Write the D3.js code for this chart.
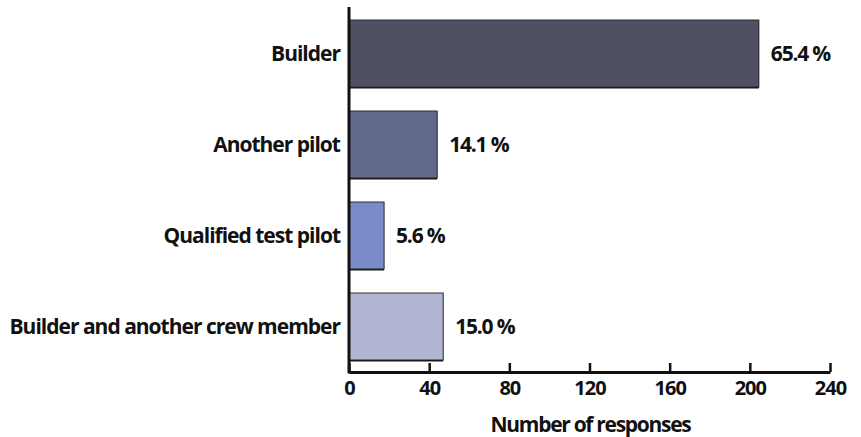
<!DOCTYPE html>
<html>
<head>
<meta charset="utf-8">
<script src="https://cdn.jsdelivr.net/npm/d3@7"></script>
<style>
  html, body { margin: 0; padding: 0; background: #fff; }
  svg text { font-family: "Open Sans", "DejaVu Sans", sans-serif; font-weight: 700; fill: #111; }
</style>
</head>
<body>
<svg id="chart" width="861" height="437"></svg>
<script>
// Who flew the first flight — number of responses per category
const categories = ["Builder", "Another pilot", "Qualified test pilot", "Builder and another crew member"];
const responses = [204.5, 44, 17.5, 47];
const percentLabels = ["65.4 %", "14.1 %", "5.6 %", "15.0 %"];
const barColors = ["#4f5162", "#63698c", "#7b8bc9", "#b3b6d3"];
const xTicks = [0, 40, 80, 120, 160, 200, 240];
const xTitle = "Number of responses";

const svg = d3.select("#chart");
const plotLeft = 349, plotRight = 830, plotTop = 7, plotBottom = 372;

const x = d3.scaleLinear().domain([0, 240]).range([plotLeft, plotRight]);
const y = d3.scaleBand().domain(categories).range([plotTop + 1, plotBottom])
  .paddingInner(0.264).paddingOuter(0.132);

const rows = categories.map((c, i) => ({ c, v: responses[i], p: percentLabels[i], col: barColors[i] }));

// bar shadows
svg.append("g").selectAll("rect").data(rows).join("rect")
  .attr("x", x(0)).attr("y", d => y(d.c) + 1.5)
  .attr("width", d => x(d.v) - x(0)).attr("height", y.bandwidth())
  .attr("fill", "#111");

// bars
svg.append("g").selectAll("rect").data(rows).join("rect")
  .attr("x", x(0)).attr("y", d => y(d.c))
  .attr("width", d => x(d.v) - x(0)).attr("height", y.bandwidth())
  .attr("fill", d => d.col).attr("stroke", "#2b2b2e").attr("stroke-width", 1);

// percentage labels
svg.append("g").selectAll("text").data(rows).join("text")
  .attr("x", d => x(d.v) + 12).attr("y", d => y(d.c) + y.bandwidth() / 2)
  .attr("dy", "0.35em").attr("font-size", 21).attr("letter-spacing", -1.2)
  .text(d => d.p);

// category labels
svg.append("g").selectAll("text").data(rows).join("text")
  .attr("x", plotLeft - 9).attr("y", d => y(d.c) + y.bandwidth() / 2)
  .attr("dy", "0.37em").attr("text-anchor", "end")
  .attr("font-size", 21).attr("letter-spacing", -1)
  .text(d => d.c);

// x axis with inward ticks
const xAxis = svg.append("g").attr("transform", `translate(0,${plotBottom})`)
  .call(d3.axisBottom(x).tickValues(xTicks).tickSize(-9).tickPadding(9).tickSizeOuter(0));
xAxis.select(".domain").attr("stroke", "#111").attr("stroke-width", 3);
xAxis.selectAll(".tick line").attr("stroke", "#111").attr("stroke-width", 2.5);
xAxis.selectAll(".tick text").attr("font-size", 20).attr("letter-spacing", -1)
  .attr("font-family", "'Open Sans', sans-serif").attr("font-weight", 700).attr("fill", "#111");

// y axis line
svg.append("line").attr("x1", plotLeft).attr("x2", plotLeft).attr("y1", plotTop).attr("y2", plotBottom + 1.5)
  .attr("stroke", "#111").attr("stroke-width", 3);

// x axis title
svg.append("text").attr("x", (plotLeft + plotRight) / 2 + 1).attr("y", 432)
  .attr("text-anchor", "middle").attr("font-size", 21).attr("letter-spacing", -1.3)
  .text(xTitle);
</script>
</body>
</html>
